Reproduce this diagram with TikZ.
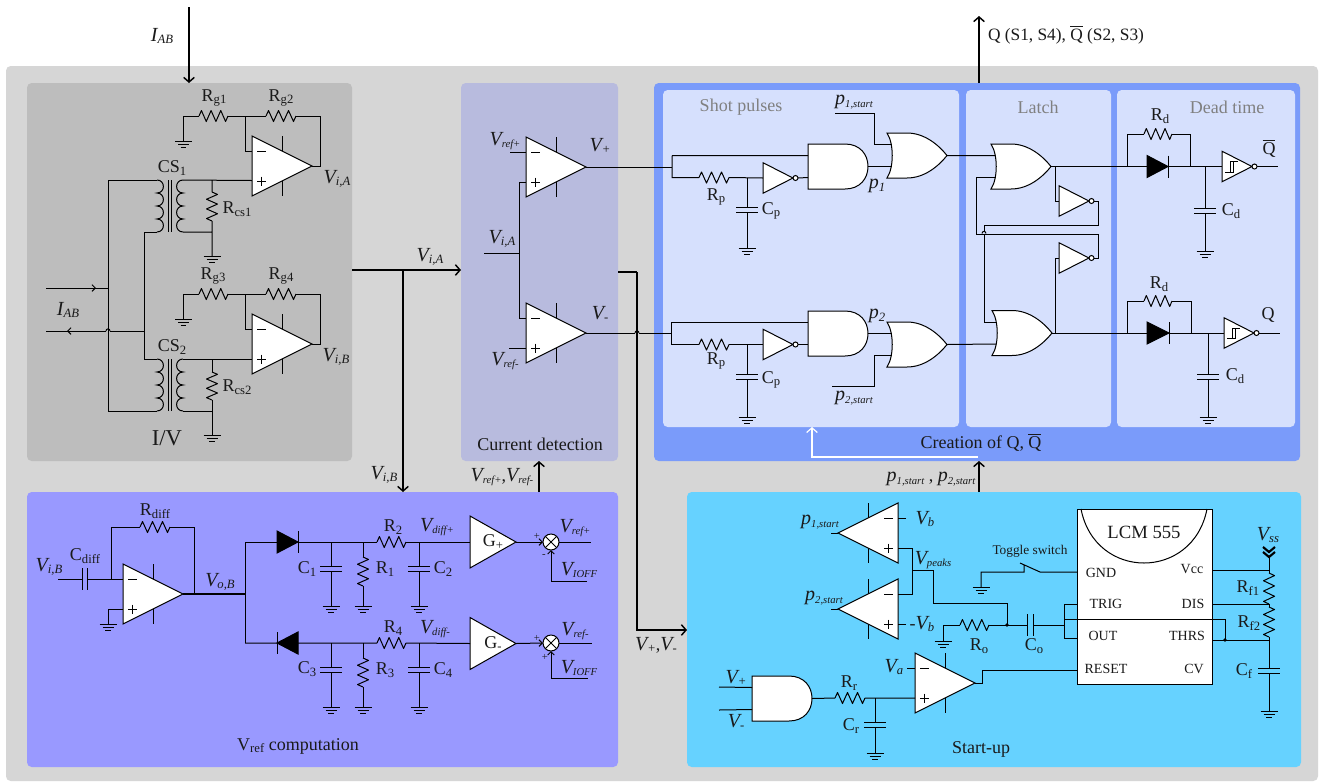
\documentclass[tikz,border=0pt]{standalone}
\usepackage{fontspec}
\setmainfont{Liberation Serif}
\usetikzlibrary{arrows.meta,calc}
\definecolor{cOuter}{HTML}{D6D6D6}
\definecolor{cIV}{HTML}{BDBDBD}
\definecolor{cDet}{HTML}{B8BBDE}
\definecolor{cCre}{HTML}{7A9BFA}
\definecolor{cIn}{HTML}{D6E0FD}
\definecolor{cRef}{HTML}{9999FF}
\definecolor{cSta}{HTML}{66D2FF}
\definecolor{cInk}{HTML}{1A1A1A}
\tikzset{
  wire/.style={line width=0.75pt,draw=black,line join=miter},
  part/.style={line width=0.75pt,draw=black,fill=white,line join=miter},
  bus/.style={line width=1.15pt,draw=black},
  busarrow/.style={bus,-{Straight Barb[length=3.5pt,width=8pt,line width=1.1pt]}},
  tinyarrow/.style={line width=0.75pt,-{Straight Barb[length=2.5pt,width=5pt]}},
  lab/.style={inner sep=0pt,outer sep=0pt,text=cInk,font=\fontsize{13.5}{14}\selectfont},
  blockbox/.style={inner sep=0pt,outer sep=0pt,anchor=north west,rounded corners=3.5pt,draw=none},
}
\newcounter{lblc}
\newcommand{\T}[4][]{\stepcounter{lblc}\node[lab,#1] (lbl\thelblc) at (#2,#3) {#4};}
% V_{sub}: italic letter with small italic subscript
\newcommand{\vv}[2]{{\fontsize{15}{15}\selectfont\itshape #1}\raisebox{-0.32ex}{\fontsize{9.5}{10}\selectfont\itshape #2}}
\newcommand{\vs}[2]{{\fontsize{15}{15}\selectfont\itshape #1}\raisebox{-0.32ex}{\fontsize{8}{9}\selectfont\itshape #2}}
\newcommand{\rr}[2]{#1\raisebox{-0.32ex}{\fontsize{9.5}{10}\selectfont #2}}
\newcommand{\qbar}{\makebox[0pt][l]{\raisebox{0.76em}{\rule{0.72em}{0.05em}}}Q}
\newcommand{\blockn}[6]{\pgfmathsetmacro{\bw}{0.75*(#4-#2)}\pgfmathsetmacro{\bh}{0.75*(#5-#3)}%
  \node[blockbox,fill=#6,minimum width=\bw pt,minimum height=\bh pt] (#1) at (#2,#3) {};}
% ---- components -------------------------------------------------
\newcommand{\cOpamp}[3]{\begin{scope}[shift={(#2,#3)}]
  \draw[wire] (30,-30)--(30,-15) (30,15)--(30,30);
  \draw[part] (0,-30)--(60,0)--(0,30)--cycle;
  \draw[wire] (5,-15)--(14,-15) (5,15)--(14,15) (9.5,10.5)--(9.5,19.5);
  \coordinate (#1-m) at (0,-15);\coordinate (#1-p) at (0,15);\coordinate (#1-o) at (60,0);
  \end{scope}}
\newcommand{\cOpampL}[3]{\begin{scope}[shift={(#2,#3)}]
  \draw[wire] (-30,-30)--(-30,-15) (-30,15)--(-30,30);
  \draw[part] (0,-30)--(-60,0)--(0,30)--cycle;
  \draw[wire] (-5,-15)--(-14,-15) (-5,15)--(-14,15) (-9.5,10.5)--(-9.5,19.5);
  \coordinate (#1-m) at (0,-15);\coordinate (#1-p) at (0,15);\coordinate (#1-o) at (-60,0);
  \end{scope}}
\newcommand{\cResH}[4]{\begin{scope}[shift={(#2,#4)},xscale=(#3-#2)/30]
  \draw[wire,line join=round] (0,0)--(2.5,-5.5)--(7.5,5.5)--(12.5,-5.5)--(17.5,5.5)--(22.5,-5.5)--(27.5,5.5)--(30,0);
  \coordinate (#1-l) at (0,0);\coordinate (#1-r) at (30,0);
  \end{scope}}
\newcommand{\cResV}[4]{\begin{scope}[shift={(#2,#3)},yscale=(#4-#3)/30]
  \draw[wire,line join=round] (0,0)--(5.5,2.5)--(-5.5,7.5)--(5.5,12.5)--(-5.5,17.5)--(5.5,22.5)--(-5.5,27.5)--(0,30);
  \coordinate (#1-t) at (0,0);\coordinate (#1-b) at (0,30);
  \end{scope}}
\newcommand{\cCapV}[4]{\draw[wire] (#2-11,#3)--(#2+11,#3) (#2-11,#4)--(#2+11,#4);
  \coordinate (#1-t) at (#2,#3);\coordinate (#1-b) at (#2,#4);}
\newcommand{\cCapH}[4]{\draw[wire] (#2,#4-11)--(#2,#4+11) (#3,#4-11)--(#3,#4+11);
  \coordinate (#1-l) at (#2,#4);\coordinate (#1-r) at (#3,#4);}
\newcommand{\cGnd}[3]{\draw[wire] (#2-8.5,#3)--(#2+8.5,#3) (#2-5.5,#3+3.4)--(#2+5.5,#3+3.4) (#2-2.8,#3+6.8)--(#2+2.8,#3+6.8);
  \coordinate (#1) at (#2,#3);}
\newcommand{\cAnd}[3]{\begin{scope}[shift={(#2,#3)}]
  \draw[part] (0,-22.5)--(37,-22.5) .. controls (52,-22.5) and (60,-12) .. (60,0) .. controls (60,12) and (52,22.5) .. (37,22.5)--(0,22.5)--cycle;
  \coordinate (#1-a) at (0,-11);\coordinate (#1-b) at (0,11);\coordinate (#1-o) at (60,0);
  \end{scope}}
\newcommand{\cOr}[3]{\begin{scope}[shift={(#2,#3)}]
  \draw[part] (0,-22.5)--(20,-22.5) .. controls (38,-22.5) and (52,-10) .. (60,0) .. controls (52,10) and (38,22.5) .. (20,22.5)--(0,22.5) .. controls (7,12) and (7,-12) .. (0,-22.5)--cycle;
  \coordinate (#1-a) at (4.5,-11);\coordinate (#1-b) at (4.5,11);\coordinate (#1-o) at (60,0);
  \end{scope}}
\newcommand{\cInv}[3]{\begin{scope}[shift={(#2,#3)}]
  \draw[part] (0,-15.3)--(30,0)--(0,15.3)--cycle;
  \draw[part] (32.5,0) circle[radius=2.5];
  \coordinate (#1-i) at (0,0);\coordinate (#1-o) at (35,0);
  \end{scope}}
\newcommand{\cHyst}[2]{\begin{scope}[shift={(#1,#2)}]
  \draw[wire,line width=0.6pt] (3,5.5)--(11.5,5.5)--(11.5,-5)--(16,-5) (11.5,-5)--(8,-5)--(8,5.5);
  \end{scope}}
\newcommand{\cDiode}[4]{\draw[line width=0.75pt,fill=black,draw=black] (#2,#4-11)--(#3,#4)--(#2,#4+11)--cycle;
  \draw[wire] (#3,#4-11)--(#3,#4+11);
  \coordinate (#1-a) at (#2,#4);\coordinate (#1-c) at (#3,#4);}
\newcommand{\cSum}[3]{\begin{scope}[shift={(#2,#3)}]
  \draw[part] (0,0) circle[radius=8];
  \draw[wire] (-5.6,-5.6)--(5.6,5.6) (-5.6,5.6)--(5.6,-5.6);
  \coordinate (#1-l) at (-8,0);\coordinate (#1-r) at (8,0);\coordinate (#1-b) at (0,8);
  \end{scope}}
\newcommand{\cGain}[3]{\begin{scope}[shift={(#2,#3)}]
  \draw[part] (0,-26)--(46,0)--(0,26)--cycle;
  \coordinate (#1-i) at (0,0);\coordinate (#1-o) at (46,0);
  \end{scope}}
% coil: #2 = cusp x, #3 = top y, #4 = signed bulge
\newcommand{\cCoil}[4]{\draw[wire] (#2,#3)
  .. controls (#2+#4,#3) and (#2+#4,#3+13) .. (#2,#3+13)
  .. controls (#2+#4,#3+13) and (#2+#4,#3+26) .. (#2,#3+26)
  .. controls (#2+#4,#3+26) and (#2+#4,#3+39) .. (#2,#3+39)
  .. controls (#2+#4,#3+39) and (#2+#4,#3+52) .. (#2,#3+52);
  \coordinate (#1-t) at (#2,#3);\coordinate (#1-b) at (#2,#3+52);}
\newcommand{\cHop}[2]{\draw[wire] (#1-2,#2) .. controls (#1-2,#2-2.8) and (#1+2,#2-2.8) .. (#1+2,#2);}
\newcommand{\cDot}[3]{\fill (#2,#3) circle[radius=1.8];\coordinate (#1) at (#2,#3);}
\begin{document}
\begin{tikzpicture}[x=0.75pt,y=-0.75pt]
\useasboundingbox (0,0) rectangle (1322,783);
\fill[white] (0,0) rectangle (1322,783);
% ---- blocks ------------------------------------------------------
\blockn{outer}{6}{66}{1318}{781}{cOuter}
\blockn{iv}{27}{83}{352}{461}{cIV}
\blockn{det}{461}{83}{618}{461}{cDet}
\blockn{cre}{654}{83}{1300}{461}{cCre}
\blockn{shot}{663}{90}{959}{427}{cIn}
\blockn{latch}{966}{90}{1111}{427}{cIn}
\blockn{dead}{1117}{90}{1295}{427}{cIn}
\blockn{vref}{27}{492}{618}{767}{cRef}
\blockn{start}{687}{492}{1301}{767}{cSta}
% ---- I/V ---------------------------------------------------------
\cResH{Rgi}{199}{228}{116}\cResH{Rgii}{266}{296}{116}
\cResH{Rgiii}{199}{228}{294}\cResH{Rgiv}{266}{296}{294}
\cGnd{gA}{183.5}{141}\cGnd{gB}{183.5}{319}\cGnd{gC}{212}{256}\cGnd{gD}{212}{435}
\cResV{Rcsi}{212}{192}{221}\cResV{Rcsii}{212}{372}{400}
\cCoil{Li}{157}{180}{8.5}\cCoil{Lii}{183}{180}{-8.5}
\cCoil{Liii}{157}{359}{8.5}\cCoil{Liv}{183}{359}{-8.5}
\draw[wire] (168.5,180)--(168.5,232) (171.5,180)--(171.5,232) (168.5,359)--(168.5,411) (171.5,359)--(171.5,411);
\draw[wire] (gA)--(183.5,116)--(Rgi-l) (Rgi-r)--(Rgii-l) (Rgii-r)--(320,116)--(320,166)--(312,166);
\draw[wire] (245,116)--(245,151)--(252,151);
\draw[wire] (gB)--(183.5,294)--(Rgiii-l) (Rgiii-r)--(Rgiv-l) (Rgiv-r)--(320,294)--(320,344)--(312,344);
\draw[wire] (245,294)--(245,329)--(252,329);
\draw[wire] (Lii-t)--(252,180.5) (Rcsi-t)--(212,180.5) (Rcsi-b)--(gC) (Lii-b)--(212,232);
\draw[wire] (Liv-t)--(252,359) (Rcsii-t)--(212,359) (Rcsii-b)--(gD) (Liv-b)--(212,411);
\draw[wire] (Li-t)--(108,180)--(108,411)--(Liii-b);
\draw[wire] (Li-b)--(144,232)--(144,359)--(Liii-t);
\coordinate (iin) at (46,288);\coordinate (iout) at (46,331);
\draw[wire] (iin)--(108,288);
\draw[tinyarrow] (iin)--(96,288);
\draw[wire] (iout)--(106,331) (110,331)--(144,331);
\draw[tinyarrow] (90,331)--(67,331);
\cHop{108}{331}
\cOpamp{A}{252}{166}\cOpamp{B}{252}{344}
\T{214}{98}{\rr{R}{g1}}\T{281}{98}{\rr{R}{g2}}
\T{172}{168}{\rr{CS}{1}}\T{237}{209}{\rr{R}{cs1}}
\T{213}{276}{\rr{R}{g3}}\T{281}{276}{\rr{R}{g4}}
\T{172}{347}{\rr{CS}{2}}\T{237}{387}{\rr{R}{cs2}}
\T{337}{179}{\vv{V}{i,A}}\T{336}{357}{\vv{V}{i,B}}
\T{68}{310}{\vv{I}{AB}}\T{162}{36}{\vv{I}{AB}}
\T[font=\fontsize{17}{18}\selectfont]{167}{438}{I/V}
% ---- current detection -------------------------------------------
\cOpamp{Ca}{526}{167}\cOpamp{Cb}{526}{333}
\coordinate (refp) at (510,152);\coordinate (refm) at (509,348);\coordinate (via) at (484,253);
\draw[wire] (refp)--(Ca-m) (refm)--(Cb-p) (via)--(519,253);
\draw[wire] (Ca-p)--(519,182)--(519,318)--(Cb-m);
\T{505}{141}{\vs{V}{ref+}}\T{505}{361}{\vs{V}{ref-}}\T{502}{239}{\vv{V}{i,A}}
\T{600}{146}{\vv{V}{+}}\T{600}{314}{\vv{V}{-}}
\T{540}{444}{Current detection}
% ---- shot pulses -------------------------------------------------
\cAnd{Aa}{808}{166.5}\cAnd{Ab}{808}{333.5}
\cOr{Oa}{887}{155.5}\cOr{Ob}{887}{344.5}
\cInv{Ia}{763}{178}\cInv{Ib}{763}{344.5}
\cResH{Rpa}{699}{729}{177.5}\cResH{Rpb}{699}{729}{344.5}
\cCapV{Cpa}{747}{207}{212}\cCapV{Cpb}{747}{374}{379}
\cGnd{gE}{747}{248}\cGnd{gF}{747}{417}
\draw[wire] (Ca-o)--(672,167);
\draw[wire] (672,155.5)--(Aa-a) (672,155.5)--(672,177.5)--(Rpa-l) (Rpa-r)--(Ia-i) (Ia-o)--(Aa-b);
\draw[wire] (747,177.5)--(Cpa-t) (Cpa-b)--(gE);
\draw[wire] (Aa-o)--(Oa-b);
\coordinate (ps1) at (835,113);\coordinate (ps2) at (832,386);
\draw[wire] (ps1)--(874,113)--(874,144.5)--(Oa-a);
\draw[wire] (Cb-o)--(635,333) (639,333)--(671,333);
\cHop{637}{333}
\draw[wire] (671,322.5)--(Ab-a) (671,322.5)--(671,344.5)--(Rpb-l) (Rpb-r)--(Ib-i) (Ib-o)--(Ab-b);
\draw[wire] (747,344.5)--(Cpb-t) (Cpb-b)--(gF);
\draw[wire] (Ab-o)--(Ob-a);
\draw[wire] (ps2)--(874,386)--(874,355.5)--(Ob-b);
\T[text=gray]{741}{107}{Shot pulses}\T[text=gray]{1038}{107}{Latch}\T[text=gray]{1227}{107}{Dead time}
\T{716}{197}{\rr{R}{p}}\T{771}{211}{\rr{C}{p}}\T{716}{361}{\rr{R}{p}}\T{771}{380}{\rr{C}{p}}
\T{854}{102}{\vs{p}{1,start}}\T{854}{398}{\vs{p}{2,start}}
\T{877}{186}{\vv{p}{1}}\T{877}{316}{\vv{p}{2}}
\T{981}{443}{Creation of Q, \qbar}
% ---- latch -------------------------------------------------------
\cOr{La}{991}{166.5}\cOr{Lb}{992}{333}
\cInv{Ic}{1059}{201}\cInv{Id}{1059}{258}
\draw[wire] (Oa-o)--(La-a) (Ob-o)--(Lb-b);
\draw[wire] (La-b)--(976,177.5)--(976,234)--(1098,234)--(1098,258)--(Id-o);
\draw[wire] (Ic-o)--(1098,201)--(1098,225)--(984,225)--(984,231) (984,235)--(984,322)--(Lb-a);
\cHop{984}{233.5}
\draw[wire] (1055,166.5)--(1055,201)--(Ic-i) (1055,333)--(1055,258)--(Id-i);
% ---- dead time ---------------------------------------------------
\cDiode{Da}{1147}{1168}{166.5}\cDiode{Db}{1147}{1169}{333}
\cResH{Rda}{1144}{1172}{134}\cResH{Rdb}{1144}{1172}{301}
\cCapV{Cda}{1205}{208}{213}\cCapV{Cdb}{1208}{374}{379}
\cGnd{gG}{1205}{251}\cGnd{gH}{1208}{417}
\cInv{Ie}{1222}{166.5}\cInv{If}{1224}{333}
\cHyst{1222}{166.5}\cHyst{1224}{333}
\coordinate (qb) at (1278,166.5);\coordinate (qq) at (1280,333);
\draw[wire] (La-o)--(Da-a) (Da-c)--(Ie-i) (Ie-o)--(qb);
\draw[wire] (Lb-o)--(Db-a) (Db-c)--(If-i) (If-o)--(qq);
\draw[wire] (1127,166.5)--(1127,134)--(Rda-l) (Rda-r)--(1190,134)--(1190,166.5);
\draw[wire] (1127,333)--(1127,301)--(Rdb-l) (Rdb-r)--(1191,301)--(1191,333);
\draw[wire] (1205,166.5)--(Cda-t) (Cda-b)--(gG);
\draw[wire] (1208,333)--(Cdb-t) (Cdb-b)--(gH);
\T{1160}{116}{\rr{R}{d}}\T{1159}{284}{\rr{R}{d}}
\T{1231}{211}{\rr{C}{d}}\T{1235}{376}{\rr{C}{d}}
\T{1269}{149}{\qbar}\T{1268}{315}{Q}
% ---- Vref computation --------------------------------------------
\cOpamp{D}{123}{594}
\cCapH{Cdf}{82}{87}{579}\cResH{Rdf}{140}{170}{527}
\cGnd{gI}{108}{624}
\coordinate (vib) at (58,579);
\draw[wire] (vib)--(Cdf-l) (Cdf-r)--(D-m);
\draw[wire] (111,579)--(111,527)--(Rdf-l) (Rdf-r)--(194,527)--(194,594);
\draw[wire] (D-p)--(108,609)--(gI);
\draw[wire,line width=1pt] (D-o)--(245,594);
\draw[wire] (245,542)--(245,643);
\cDiode{De}{277}{298}{542}\cDiode{Df}{298}{277}{643}
\cResH{Rii}{377}{406}{542}\cResH{Riv}{377}{406}{643}
\cResV{Ri}{363}{557}{586}\cResV{Riii}{363}{658}{687}
\cCapV{Co}{331}{566}{571}\cCapV{Cii}{419}{566}{571}\cCapV{Ciii}{331}{667}{672}\cCapV{Civ}{419}{667}{672}
\cGnd{g1}{331}{606}\cGnd{g2}{363}{606}\cGnd{g3}{419}{606}
\cGnd{g4}{331}{707}\cGnd{g5}{363}{707}\cGnd{g6}{419}{707}
\cGain{Gp}{470}{542}\cGain{Gm}{470}{643.5}
\cSum{Sa}{551}{542}\cSum{Sb}{551}{643}
\coordinate (vrp) at (591,542);\coordinate (vrm) at (592,643);
\coordinate (iofa) at (587,581);\coordinate (iofb) at (588,678);
\draw[wire] (245,542)--(De-a) (De-c)--(Rii-l) (Rii-r)--(Gp-i);
\draw[wire] (245,643)--(Df-c) (Df-a)--(Riv-l) (Riv-r)--(Gm-i);
\draw[wire] (331,542)--(Co-t) (Co-b)--(g1) (363,542)--(Ri-t) (Ri-b)--(g2) (419,542)--(Cii-t) (Cii-b)--(g3);
\draw[wire] (331,643)--(Ciii-t) (Ciii-b)--(g4) (363,643)--(Riii-t) (Riii-b)--(g5) (419,643)--(Civ-t) (Civ-b)--(g6);
\draw[wire,tinyarrow] (Gp-o)--(Sa-l);\draw[wire,tinyarrow] (Gm-o)--(Sb-l);
\draw[wire] (Sa-r)--(vrp) (Sb-r)--(vrm);
\draw[wire,tinyarrow] (iofa)--(551,581)--(Sa-b);
\draw[wire,tinyarrow] (iofb)--(551,678)--(Sb-b);
\T{49}{567}{\vv{V}{i,B}}\T{85}{556}{\rr{C}{diff}}\T{155}{511}{\rr{R}{diff}}
\T{220}{582}{\vv{V}{o,B}}
\T{307}{569}{\rr{C}{1}}\T{385}{569}{\rr{R}{1}}\T{393}{527}{\rr{R}{2}}\T{443}{569}{\rr{C}{2}}
\T{307}{669}{\rr{C}{3}}\T{385}{670}{\rr{R}{3}}\T{393}{628}{\rr{R}{4}}\T{443}{670}{\rr{C}{4}}
\T{437}{527}{\vs{V}{diff+}}\T{435}{629}{\vs{V}{diff-}}
\T{493}{542}{\rr{G}{+}}\T{493}{643.5}{\rr{G}{-}}
\T{575}{528}{\vs{V}{ref+}}\T{575}{631}{\vs{V}{ref-}}
\T{579}{570}{\vs{V}{IOFF}}\T{579}{668}{\vs{V}{IOFF}}
\T[font=\fontsize{8}{8}\selectfont]{537}{536}{+}\T[font=\fontsize{8}{8}\selectfont]{544}{556}{-}
\T[font=\fontsize{8}{8}\selectfont]{537}{638}{+}\T[font=\fontsize{8}{8}\selectfont]{545}{657}{+}
\T{298}{746}{\rr{V}{ref} computation}
% ---- start-up ----------------------------------------------------
\cOpampL{Sx}{898}{533}\cOpampL{Sy}{898}{609}\cOpamp{Sz}{915}{683}
\cAnd{Ac}{752}{698.5}
\cResH{Rr}{835}{865}{698}\cCapV{Cr}{875}{722}{727}\cGnd{gJ}{875}{753}
\cResH{Ro}{960}{989}{625}\cGnd{gK}{943}{641}\cGnd{gL}{981}{587}
\cCapH{Coo}{1027}{1033}{625}
\cDot{dO}{1007}{625}
% LCM 555
\pgfmathsetmacro{\icw}{0.75*135}\pgfmathsetmacro{\ich}{0.75*175}%
\node[part,inner sep=0pt,minimum width=\icw pt,minimum height=\ich pt,anchor=north west] (ic) at (1077,509) {};
\draw[wire] (1081,509) .. controls (1095,581) and (1193,581) .. (1207,509);
\coordinate (psta) at (831,533);\coordinate (pstb) at (831,609);
\coordinate (vb1) at (906,518);\coordinate (vb2) at (906,624);\coordinate (va) at (907,668);
\coordinate (vpA) at (719,687);\coordinate (vmA) at (719,710);
\draw[wire] (psta)--(Sx-o) (pstb)--(Sy-o) (vb1)--(Sx-m) (vb2)--(Sy-p) (va)--(Sz-m);
\draw[wire] (Sx-p)--(912,548)--(912,594)--(Sy-m);
\draw[wire] (912,570)--(933,570)--(933,603)--(1007,603)--(dO);
\draw[wire] (gK)--(943,625)--(Ro-l) (Ro-r)--(dO)--(Coo-l) (Coo-r)--(1064,625);
\draw[wire] (ic.west |- 0,604)--(1064,604)--(1064,638)--(ic.west |- 0,638);
\draw[wire] (1064,619)--(1225,619)--(1225,640);
\draw[wire] (vpA)--(Ac-a) (vmA)--(Ac-b) (Ac-o)--(Rr-l) (Rr-r)--(915,698);
\draw[wire] (875,698)--(Cr-t) (Cr-b)--(gJ);
\draw[wire] (Sz-o)--(982,683)--(982,670)--(ic.west |- 0,670);
% toggle switch
\draw[wire] (gL)--(981,572)--(1024,572)--(1024,565) (1020,563)--(1040,572)--(ic.west |- 0,572);
% right side
\cResV{Rfa}{1269}{573}{604}\cResV{Rfb}{1269}{607}{637}\cCapV{Cf}{1269}{668}{673}\cGnd{gM}{1269}{711}
\cDot{dT}{1225}{640}
\coordinate (vss) at (1269,557);
\draw[line width=1.6pt] (1263,547)--(1269,552)--(1275,547) (1263,552)--(1269,557)--(1275,552);
\draw[wire] (vss)--(Rfa-t) (ic.east |- 0,570)--(1269,570);
\draw[wire] (Rfa-b)--(Rfb-t) (ic.east |- 0,604)--(1269,604);
\draw[wire] (Rfb-b)--(1269,640)--(ic.east |- 0,640) (1269,640)--(Cf-t) (Cf-b)--(gM);
\T{820}{522}{\vs{p}{1,start}}\T{824}{598}{\vs{p}{2,start}}
\T{925}{519}{\vv{V}{b}}\T{922}{624}{-\vv{V}{b}}\T{933}{560}{\vs{V}{peaks}}\T{894}{667}{\vv{V}{a}}
\T{736}{678}{\vv{V}{+}}\T{736}{722}{\vv{V}{-}}
\T{849}{683}{\rr{R}{r}}\T{851}{726}{\rr{C}{r}}\T{979}{646}{\rr{R}{o}}\T{1034}{646}{\rr{C}{o}}
\T{981}{749}{Start-up}
\T[font=\fontsize{10}{10}\selectfont]{1030}{551}{Toggle switch}
\T[font=\fontsize{14}{14}\selectfont]{1144}{532}{LCM 555}
\T[font=\fontsize{10.5}{11}\selectfont]{1101}{573}{GND}\T[font=\fontsize{10.5}{11}\selectfont]{1106}{604}{TRIG}
\T[font=\fontsize{10.5}{11}\selectfont]{1103}{636}{OUT}\T[font=\fontsize{10.5}{11}\selectfont]{1106}{669}{RESET}
\T[font=\fontsize{10.5}{11}\selectfont]{1192}{569}{Vcc}\T[font=\fontsize{10.5}{11}\selectfont]{1193}{604}{DIS}
\T[font=\fontsize{10.5}{11}\selectfont]{1187}{636}{THRS}\T[font=\fontsize{10.5}{11}\selectfont]{1194}{669}{CV}
\T{1248}{588}{\rr{R}{f1}}\T{1249}{623}{\rr{R}{f2}}\T{1244}{671}{\rr{C}{f}}\T{1268}{535}{\vv{V}{ss}}
% ---- block level connectors --------------------------------------
\coordinate (iab) at (189,7);\coordinate (qtop) at (979,16);
\coordinate (j1) at (403,270);
\draw[busarrow] (iab)--(iv.north -| iab);
\draw[bus] (iv.east |- j1)--(j1);
\draw[busarrow] (j1)--(det.west |- j1);
\draw[busarrow] (j1)--(vref.north -| j1);
\draw[busarrow] (cre.north -| qtop)--(qtop);
\coordinate (bv) at (539,470);
\draw[busarrow] (vref.north -| bv)--(det.south -| bv);
\coordinate (bs) at (979,470);
\draw[busarrow] (start.north -| bs)--(cre.south -| bs);
\coordinate (wt) at (812,457);
\draw[line width=0.9pt,draw=white,-{Straight Barb[length=3.5pt,width=8pt,line width=0.9pt]}] (978,457)--(wt)--(shot.south -| wt);
\coordinate (bd) at (637,272);
\draw[bus] (det.east |- bd)--(bd);
\draw[busarrow] (bd)--(637,630)--(start.west |- 0,630);
\T{430}{257}{\vv{V}{i,A}}\T{384}{475}{\vv{V}{i,B}}
\T{502}{477}{\vs{V}{ref+},\vs{V}{ref-}}
\T{656}{645}{\vv{V}{+},\vv{V}{-}}
\T{931}{479}{\vs{p}{1,start} , \vs{p}{2,start}}
\T[font=\fontsize{13}{14}\selectfont]{1066}{35}{Q (S1, S4), \qbar{} (S2, S3)}
\end{tikzpicture}
\end{document}
